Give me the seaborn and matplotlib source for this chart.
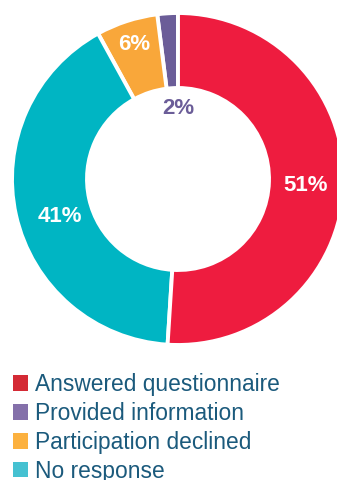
import matplotlib
matplotlib.use("Agg")
import matplotlib.pyplot as plt
from matplotlib.patches import Patch
import numpy as np
import seaborn as sns

# Survey outcome shares (percent)
categories = ["Answered questionnaire", "Provided information",
              "Participation declined", "No response"]
shares = [51, 2, 6, 41]

# Ring colours and legend swatch colours
ring_colors = ["#ee1c3f", "#6b5d98", "#f9a73a", "#00b5c3"]
swatch_colors = ["#d42a35", "#8470aa", "#fcb13f", "#45c1d1"]
label_colors = ["white", "#6b5d98", "white", "white"]

# Drawing order around the ring (counter-clockwise from 12 o'clock)
ring_order = [1, 2, 3, 0]
# label placement: radius (px) and angle nudge (deg) for each category
label_radius = [128, 70, 141, 124]
label_nudge = [-1, -3.6, 0, 5]

sns.set_theme(style="white")
plt.rcParams["font.family"] = ["Liberation Sans", "DejaVu Sans"]

W, H = 337, 480
fig = plt.figure(figsize=(W / 100, H / 100), dpi=100)
ax = fig.add_axes([0, 0, 1, 1])

cx, cy = 178, H - 179
r_out, r_in = 166, 91

vals = [shares[i] for i in ring_order]
cols = [ring_colors[i] for i in ring_order]
ax.pie(vals, colors=cols, startangle=90, counterclock=True,
       radius=r_out, center=(cx, cy),
       wedgeprops=dict(width=r_out - r_in, edgecolor="white", linewidth=2.8))

# percentage labels at wedge mid-angles
total = sum(shares)
start = 90.0
mid = {}
for i in ring_order:
    span = 360.0 * shares[i] / total
    mid[i] = start + span / 2
    start += span
for i in range(len(categories)):
    ang = np.deg2rad(mid[i] + label_nudge[i])
    r = label_radius[i]
    ax.text(cx + r * np.cos(ang), cy + r * np.sin(ang), f"{shares[i]}%",
            ha="center", va="center", fontsize=16, fontweight="bold",
            color=label_colors[i])

ax.set_xlim(0, W)
ax.set_ylim(0, H)
ax.set_aspect("equal")
ax.axis("off")

handles = [Patch(facecolor=c, edgecolor="none") for c in swatch_colors]
leg = ax.legend(handles, categories, loc="upper left",
                bbox_to_anchor=(13 / W, 1 - 373 / H), bbox_transform=fig.transFigure,
                frameon=False, fontsize=16.4, borderpad=0, borderaxespad=0,
                handlelength=0.66, handleheight=0.66, handletextpad=0.3,
                labelspacing=0.26)
for t in leg.get_texts():
    t.set_color("#1b5a7c")

fig.savefig("out.png", dpi=100, facecolor="white")
